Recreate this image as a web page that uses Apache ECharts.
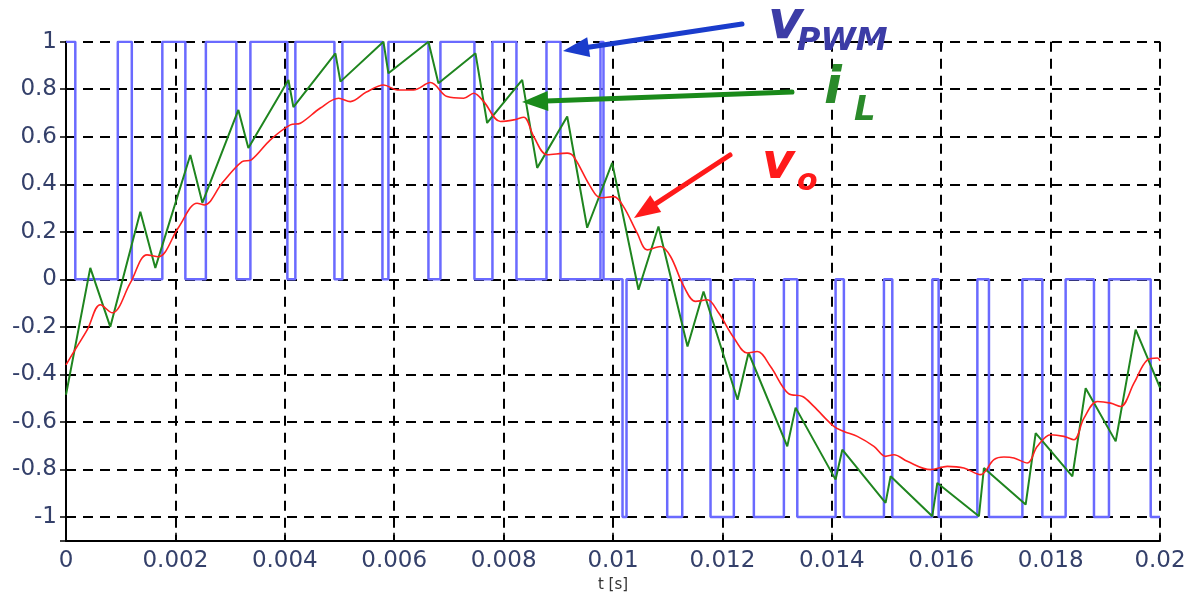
<!DOCTYPE html>
<html>
<head>
<meta charset="utf-8">
<script src="https://cdn.jsdelivr.net/npm/echarts@6/dist/echarts.min.js"></script>
<style>html,body{margin:0;padding:0;background:#fff;}#c{width:1196px;height:601px;}</style>
</head>
<body>
<div id="c"></div>
<script>
// ---- data (t in seconds) ----
// PWM voltage: [switch time, level held until next switch]
const pwmT = [0, 0.000170, 0.000947, 0.001203, 0.001761, 0.002182, 0.002557, 0.003114, 0.003371, 0.004047,
  0.004193, 0.004907, 0.005053, 0.005785, 0.005894, 0.006626, 0.006845, 0.007467, 0.007796, 0.008235,
  0.008784, 0.009040, 0.009771, 0.009826, 0.010174, 0.010247, 0.010991, 0.011266, 0.011783, 0.012209,
  0.012575, 0.013124, 0.013369, 0.014069, 0.014221, 0.014953, 0.015106, 0.015838, 0.015953, 0.016661,
  0.016873, 0.017484, 0.017849, 0.018275, 0.018793, 0.019067, 0.019830, 0.020000];
const pwmV = [1, 0, 1, 0, 1, 0, 1, 0, 1, 0,
  1, 0, 1, 0, 1, 0, 1, 0, 1, 0,
  1, 0, 1, 0, -1, 0, -1, 0, -1, 0,
  -1, 0, -1, 0, -1, 0, -1, 0, -1, 0,
  -1, 0, -1, 0, -1, 0, -1, -1];

// inductor current i_L (ripple corners)
const iLT = [0, 0.000444, 0.000810, 0.001359, 0.001633, 0.002273, 0.002493, 0.003151, 0.003334, 0.004066,
  0.004157, 0.004925, 0.005017, 0.005803, 0.005894, 0.006626, 0.006808, 0.007486, 0.007699, 0.008340,
  0.008614, 0.009163, 0.009528, 0.009985, 0.010466, 0.010831, 0.011362, 0.011655, 0.012277, 0.012478,
  0.013186, 0.013338, 0.014069, 0.014192, 0.014983, 0.015075, 0.015837, 0.015929, 0.016690, 0.016781,
  0.017544, 0.017727, 0.018398, 0.018641, 0.019190, 0.019555, 0.020000];
const iLV = [-0.486, 0.048, -0.200, 0.284, 0.048, 0.523, 0.322, 0.713, 0.553, 0.839,
  0.725, 0.951, 0.832, 1.000, 0.867, 1.000, 0.825, 0.951, 0.658, 0.839,
  0.469, 0.685, 0.217, 0.490, -0.044, 0.222, -0.283, -0.051, -0.507, -0.309,
  -0.703, -0.540, -0.843, -0.717, -0.941, -0.829, -0.997, -0.857, -0.997, -0.794,
  -0.948, -0.647, -0.829, -0.458, -0.682, -0.212, -0.456];

// output voltage v_o
const voT = [0, 0.000188, 0.000390, 0.000627, 0.000847, 0.001176, 0.001481, 0.001688, 0.002054, 0.002396,
  0.002529, 0.002858, 0.003219, 0.003389, 0.003736, 0.004102, 0.004285, 0.004651, 0.004985, 0.005199,
  0.005492, 0.005808, 0.006053, 0.006352, 0.006663, 0.006968, 0.007271, 0.007454, 0.007637, 0.007943,
  0.008186, 0.008369, 0.008552, 0.008797, 0.009162, 0.009283, 0.009588, 0.009771, 0.010015, 0.010192,
  0.010443, 0.010626, 0.010869, 0.011052, 0.011295, 0.011509, 0.011723, 0.011930, 0.012209, 0.012454,
  0.012637, 0.012880, 0.013209, 0.013466, 0.013672, 0.014038, 0.014221, 0.014466, 0.014770, 0.014983,
  0.015135, 0.015380, 0.015806, 0.016112, 0.016415, 0.016720, 0.016964, 0.017147, 0.017330, 0.017575,
  0.017758, 0.018001, 0.018244, 0.018427, 0.018610, 0.018855, 0.019098, 0.019281, 0.019524, 0.019770,
  0.019952, 0.020000];
const voV = [-0.360, -0.288, -0.212, -0.107, -0.141, -0.015, 0.103, 0.095, 0.217, 0.320,
  0.313, 0.406, 0.495, 0.503, 0.587, 0.650, 0.657, 0.721, 0.762, 0.748,
  0.788, 0.818, 0.797, 0.797, 0.828, 0.769, 0.762, 0.783, 0.748, 0.664,
  0.671, 0.682, 0.600, 0.524, 0.531, 0.516, 0.390, 0.343, 0.348, 0.306,
  0.194, 0.124, 0.138, 0.096, -0.030, -0.093, -0.086, -0.141, -0.246, -0.310,
  -0.304, -0.367, -0.481, -0.493, -0.535, -0.619, -0.640, -0.661, -0.703, -0.745,
  -0.738, -0.766, -0.801, -0.787, -0.794, -0.822, -0.759, -0.748, -0.752, -0.773,
  -0.703, -0.654, -0.661, -0.675, -0.584, -0.514, -0.521, -0.535, -0.437, -0.339,
  -0.331, -0.343];

const xName = 't [s]';
const labels = { pwm: ['v', 'PWM'], iL: ['i', 'L'], vo: ['v', 'o'] };

const zip = (a, b) => a.map((t, i) => [t, b[i]]);

const chart = echarts.init(document.getElementById('c'), null, { renderer: 'canvas' });
const FONT = '"DejaVu Sans", "Liberation Sans", sans-serif';
const gridStyle = { type: [10, 7], color: '#000', width: 2 };

function arrow(tail, tip, color, w, hl, hw) {
  const dx = tip[0] - tail[0], dy = tip[1] - tail[1];
  const L = Math.hypot(dx, dy), ux = dx / L, uy = dy / L;
  const bx = tip[0] - ux * hl, by = tip[1] - uy * hl;
  return [
    { type: 'line', silent: true, z: 100, shape: { x1: tail[0], y1: tail[1], x2: bx + ux * 2, y2: by + uy * 2 },
      style: { stroke: color, lineWidth: w, lineCap: 'round' } },
    { type: 'polygon', silent: true, z: 100, shape: { points: [tip, [bx - uy * hw, by + ux * hw], [bx + uy * hw, by - ux * hw]] },
      style: { fill: color } }
  ];
}
// baseline-positioned italic label (top-aligned text: baseline ≈ top + 0.81·size)
function txt(s, x, base, size, color) {
  return { type: 'text', silent: true, z: 101, x: x, y: base - 0.81 * size,
    style: { text: s, font: 'italic bold ' + size + 'px "DejaVu Sans", sans-serif', fill: color, align: 'left', verticalAlign: 'top' } };
}

const option = {
  animation: false,
  backgroundColor: '#fff',
  grid: { left: 66, right: 36, top: 41.7, bottom: 60.3, containLabel: false },
  xAxis: {
    type: 'value', min: 0, max: 0.02, interval: 0.002,
    name: xName, nameLocation: 'middle', nameGap: 36,
    nameTextStyle: { fontFamily: FONT, fontSize: 15, color: '#333' },
    axisLine: { show: true, onZero: false, lineStyle: { color: '#000', width: 2 } },
    axisTick: { show: true, inside: true, length: 8, lineStyle: { color: '#000', width: 1.5 } },
    axisLabel: { fontFamily: FONT, fontSize: 23, color: '#34406a', margin: 9,
      formatter: v => String(+v.toFixed(3)) },
    splitLine: { show: true, lineStyle: gridStyle }
  },
  yAxis: [{
    type: 'value', min: -1.1, max: 1, splitNumber: 10, minInterval: 0.2, maxInterval: 0.2,
    axisLine: { show: true, onZero: false, lineStyle: { color: '#000', width: 2 } },
    axisTick: { show: true, inside: true, length: 8, lineStyle: { color: '#000', width: 1.5 } },
    axisLabel: { fontFamily: FONT, fontSize: 23, color: '#34406a', margin: 9, showMinLabel: false,
      formatter: v => (Math.abs(v * 5 - Math.round(v * 5)) > 1e-6 ? '' : String(+v.toFixed(1))) },
    splitLine: { show: true, lineStyle: gridStyle }
  }, {
    type: 'value', position: 'right', min: -1.1, max: 1, splitNumber: 10, minInterval: 0.2, maxInterval: 0.2,
    axisLine: { show: false }, axisLabel: { show: false }, splitLine: { show: false },
    axisTick: { show: true, inside: true, length: 6, lineStyle: { color: '#000', width: 1.5 } }
  }],
  series: [
    { name: 'vPWM', type: 'line', data: zip(pwmT, pwmV), step: 'end', symbol: 'none', z: 2,
      lineStyle: { color: '#6a6aff', width: 2.5 } },
    { name: 'iL', type: 'line', data: zip(iLT, iLV), symbol: 'none', z: 3,
      lineStyle: { color: '#1f851f', width: 2 } },
    { name: 'vo', type: 'line', data: zip(voT, voV), symbol: 'none', smooth: 0.35, z: 4,
      lineStyle: { color: '#ff2020', width: 1.6 } }
  ],
  graphic: [
    ...arrow([742, 24], [563, 51], '#1a3ccc', 5, 26, 10),
    ...arrow([792, 92], [522, 102], '#1a8a1a', 5, 26, 10),
    ...arrow([730, 155], [634, 218], '#ff1a1a', 5, 26, 10),
    txt(labels.pwm[0], 768, 41, 54, '#3c3ca6'),
    txt(labels.pwm[1], 797, 52, 32, '#3c3ca6'),
    txt(labels.iL[0], 824, 106, 52, '#2a8a2a'),
    txt(labels.iL[1], 854, 122, 34, '#2a8a2a'),
    txt(labels.vo[0], 762, 181, 50, '#ff1a1a'),
    txt(labels.vo[1], 797, 192, 30, '#ff1a1a')
  ]
};
chart.setOption(option);
</script>
</body>
</html>
